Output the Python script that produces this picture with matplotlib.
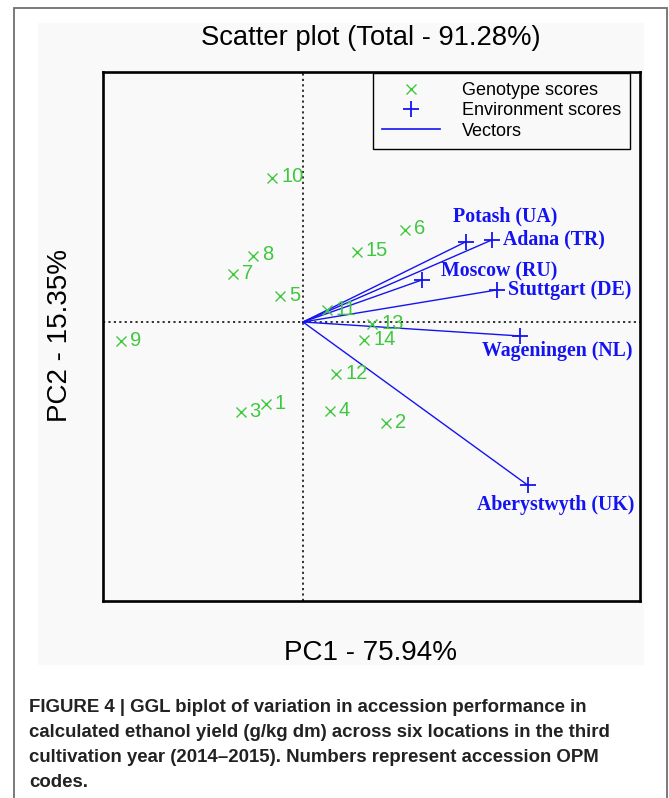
import matplotlib.pyplot as plt
from matplotlib.lines import Line2D
from matplotlib.patches import Rectangle

plt.rcParams['font.family'] = ['Liberation Sans', 'DejaVu Sans']

# genotype (accession) scores
geno_labels = ["1", "2", "3", "4", "5", "6", "7", "8", "9", "10",
               "11", "12", "13", "14", "15"]
geno_pc1 = [-0.93, 2.07, -1.56, 0.67, -0.57, 2.54, -1.76, -1.24, -4.55, -0.77,
            0.59, 0.83, 1.73, 1.53, 1.34]
geno_pc2 = [-2.05, -2.53, -2.26, -2.23, 0.65, 2.31, 1.19, 1.66, -0.47, 3.61,
            0.30, -1.30, -0.06, -0.45, 1.76]

# environment (location) scores
env_labels = ["Potash (UA)", "Adana (TR)", "Moscow (RU)", "Stuttgart (DE)",
              "Wageningen (NL)", "Aberystwyth (UK)"]
env_pc1 = [4.08, 4.72, 2.97, 4.84, 5.43, 5.62]
env_pc2 = [2.01, 2.05, 1.05, 0.80, -0.35, -4.08]

title = "Scatter plot (Total - 91.28%)"
x_label = "PC1 - 75.94%"
y_label = "PC2 - 15.35%"
legend_labels = ["Genotype scores", "Environment scores", "Vectors"]
caption = ["FIGURE 4 | GGL biplot of variation in accession performance in",
           "calculated ethanol yield (g/kg dm) across six locations in the third",
           "cultivation year (2014\u20132015). Numbers represent accession OPM",
           "codes."]

# label placement for the environment names (offset in points, alignment)
env_label_pos = [((28, 18), "center"), ((8, 0.5), "left"), ((56, 6), "center"),
                 ((8, 0), "left"), ((27, -11), "center"), ((20, -14), "center")]

green = "#3ec83e"
blue = "#1414f0"
panel = "#f9f9f9"

W, H = 669, 798


def fx(px):
    return px / W


def fy(py):
    return 1 - py / H


fig = plt.figure(figsize=(W / 100, H / 100), dpi=100)

# outer frame and grey plot panel
fig.add_artist(Rectangle((fx(14), fy(805)), fx(667) - fx(14), fy(8) - fy(805),
                         transform=fig.transFigure, fill=False, ec="#707070", lw=1.3))
fig.add_artist(Rectangle((fx(38), fy(665)), fx(644) - fx(38), fy(23) - fy(665),
                         transform=fig.transFigure, fc=panel, ec="none", zorder=0))

ax = fig.add_axes([fx(103), fy(601), fx(640) - fx(103), fy(72) - fy(601)])
ax.set_facecolor(panel)
ax.set_xlim(-5.0, 8.425)
ax.set_ylim(-6.975, 6.25)
ax.set_xticks([])
ax.set_yticks([])
for s in ax.spines.values():
    s.set_linewidth(1.9)
    s.set_color("black")

ax.axhline(0, color="#222222", ls=(0, (1.2, 1.8)), lw=1.3, zorder=1)
ax.axvline(0, color="#222222", ls=(0, (1.2, 1.8)), lw=1.3, zorder=1)

for x, y in zip(env_pc1, env_pc2):
    ax.plot([0, x], [0, y], color=blue, lw=1.0, zorder=2)
ax.plot(env_pc1, env_pc2, ls="none", marker="+", color=blue, ms=11, mew=1.3, zorder=3)
for lab, x, y, (off, ha) in zip(env_labels, env_pc1, env_pc2, env_label_pos):
    ax.annotate(lab, (x, y), xytext=off, textcoords="offset points", ha=ha, va="center",
                color=blue, fontsize=14.3, fontweight="bold",
                family=["Liberation Serif", "DejaVu Serif"], zorder=4)

ax.plot(geno_pc1, geno_pc2, ls="none", marker="x", color=green, ms=7, mew=1.0, zorder=3)
for lab, x, y in zip(geno_labels, geno_pc1, geno_pc2):
    ax.annotate(lab, (x, y), xytext=(6.5, 0.5), textcoords="offset points",
                ha="left", va="center", color=green, fontsize=14.5, zorder=4)

handles = [Line2D([], [], ls="none", marker="x", color=green, ms=7, mew=1.0),
           Line2D([], [], ls="none", marker="+", color=blue, ms=11, mew=1.3),
           Line2D([], [], color=blue, lw=1.2)]
leg = ax.legend(handles, legend_labels, loc="upper right",
                bbox_to_anchor=((630 - 103) / 537, (601 - 73) / 529),
                borderaxespad=0, fontsize=13, labelspacing=0.18, borderpad=0.5,
                handlelength=3.2, handletextpad=1.2, fancybox=False,
                framealpha=1, facecolor=panel, edgecolor="black")
leg.get_frame().set_linewidth(1.0)

fig.text(fx(371), fy(38), title, ha="center", va="center", fontsize=19.7)
fig.text(fx(370), fy(653), x_label, ha="center", va="center", fontsize=20)
fig.text(fx(60), fy(335), y_label, ha="center", va="center", fontsize=20, rotation=90)

for i, line in enumerate(caption):
    fig.text(fx(29), fy(712 + 25 * i), line, ha="left", va="baseline",
             fontsize=13.4, fontweight="bold", color="#222222",
             family=["Liberation Sans Narrow", "Liberation Sans"])

fig.savefig("out.png", dpi=100)
